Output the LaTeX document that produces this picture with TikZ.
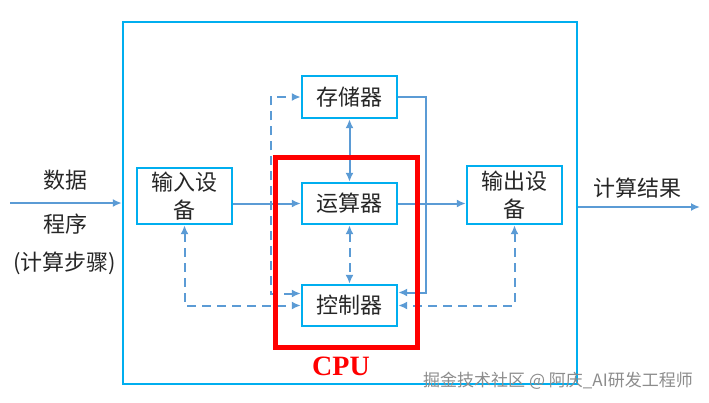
\documentclass[tikz,border=0pt]{standalone}
\usepackage{fontspec}
\setmainfont{Noto Sans CJK SC}
\newfontfamily\cpufont{Liberation Serif}
\usetikzlibrary{arrows.meta}
\definecolor{boxblue}{RGB}{0,174,239}
\definecolor{linkblue}{RGB}{91,155,213}
\definecolor{cpured}{RGB}{255,0,0}
\tikzset{
  unit/.style={draw=boxblue,line width=2.4pt,minimum width=95pt,minimum height=41pt,inner sep=0pt,align=center,font=\fontsize{22}{28}\selectfont,text=black!85},
  plaintext/.style={font=\fontsize{22}{28}\selectfont,text=black!85},
  datapath/.style={draw=linkblue,line width=2pt},
  ctrlpath/.style={datapath,dash pattern=on 9pt off 6pt}
}
\begin{document}
\begin{tikzpicture}[x=1pt,y=-1pt,>={Latex[length=9pt,width=8pt]}]
\useasboundingbox (0,0) rectangle (709,402);
\node[draw=boxblue,line width=2.4pt,minimum width=454pt,minimum height=362pt] (host) at (350,203) {};
\node[unit,minimum height=56pt] (in) at (184.5,196) {输入设\\备};
\node[unit,minimum height=58pt] (out) at (514.5,195) {输出设\\备};
\node[unit,minimum height=42pt] (mem) at (349.5,97) {存储器};
\node[unit] (alu) at (349.5,203.5) {运算器};
\node[unit] (ctl) at (349.5,305.5) {控制器};
\coordinate (src) at (10,203);
\coordinate (dst) at (700,207);
\node[plaintext] (data) at (65,180) {数据};
\node[plaintext] (prog) at (65,224) {程序};
\node[plaintext] (steps) at (65,263) {(计算步骤)};
\node[plaintext] (result) at (637,188) {计算结果};
\draw[datapath,->] (src) -- (host.west);
\draw[datapath,->] (host.east |- dst) -- (dst);
\draw[datapath,->] (in.east |- alu) -- (alu.west);
\draw[datapath,->] (alu.east) -- (out.west |- alu);
\draw[datapath,<->] (mem) -- (alu);
\draw[ctrlpath,<->] (alu) -- (ctl);
\draw[datapath,->] (mem.east) -- ++(28,0) |- ([yshift=13pt]ctl.east);
\draw[ctrlpath,<->] ([yshift=12pt]ctl.west) -- ++(-30,0) |- (mem.west);
\draw[ctrlpath,<->] (in.south) |- (ctl.west);
\draw[ctrlpath,<->] (out.south) |- (ctl.east);
\node[draw=cpured,line width=5pt,minimum width=142pt,minimum height=190pt] (cpu) at (346,252) {};
\node[text=cpured,font=\cpufont\bfseries\fontsize{28}{30}\selectfont] (cpulbl) at (341,366) {CPU};
\node[text=black!45,font=\fontsize{17}{20}\selectfont] (mark) at (558,381) {掘金技术社区 @ 阿庆\_AI研发工程师};
\end{tikzpicture}
\end{document}
